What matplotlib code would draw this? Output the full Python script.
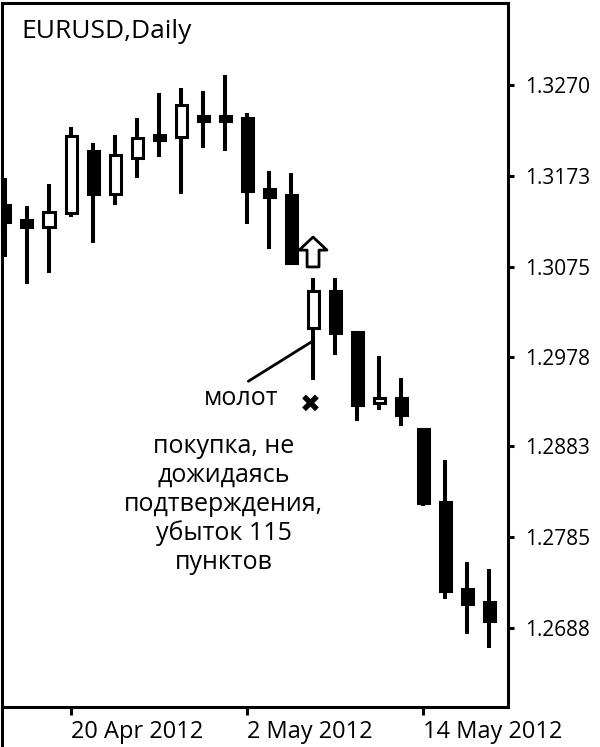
import matplotlib
matplotlib.use("Agg")
from matplotlib import pyplot as plt
from matplotlib.lines import Line2D

plt.rcParams['font.family'] = ['Open Sans', 'DejaVu Sans']

# daily candles, 17 Apr .. 17 May 2012
opens = [1.3141, 1.3125, 1.3118, 1.3133, 1.3199, 1.3153, 1.3192, 1.3216, 1.3214, 1.3237, 1.3237,
         1.3235, 1.3158, 1.3152, 1.3010, 1.3049, 1.3005, 1.2929, 1.2935, 1.2901, 1.2823, 1.2730, 1.2716]
highs = [1.3170, 1.3140, 1.3164, 1.3225, 1.3208, 1.3216, 1.3235, 1.3261, 1.3267, 1.3264, 1.3281,
         1.3240, 1.3178, 1.3176, 1.3063, 1.3063, 1.3005, 1.2979, 1.2956, 1.2902, 1.2868, 1.2759, 1.2751]
lows = [1.3086, 1.3057, 1.3069, 1.3128, 1.3101, 1.3141, 1.3170, 1.3193, 1.3153, 1.3203, 1.3199,
        1.3121, 1.3094, 1.3077, 1.2954, 1.2981, 1.2910, 1.2922, 1.2905, 1.2819, 1.2719, 1.2682, 1.2667]
closes = [1.3123, 1.3118, 1.3134, 1.3215, 1.3153, 1.3195, 1.3213, 1.3211, 1.3249, 1.3231, 1.3231,
          1.3156, 1.3150, 1.3079, 1.3049, 1.3004, 1.2927, 1.2935, 1.2916, 1.2822, 1.2728, 1.2714, 1.2696]

tick_idx = [3, 11, 19]
tick_labels = ['20 Apr 2012', '2 May 2012', '14 May 2012']
price_ticks = [1.3270, 1.3173, 1.3075, 1.2978, 1.2883, 1.2785, 1.2688]

hammer = 14

fig = plt.figure(figsize=(6, 7.47), dpi=100)
ax = fig.add_axes([2 / 600, 40 / 747, 506 / 600, 704 / 747])

n = len(opens)
xs = list(range(n))
ax.vlines(xs, lows, highs, color='black', linewidth=2.9, zorder=2)
bottoms = [min(o, c) for o, c in zip(opens, closes)]
heights = [abs(c - o) for o, c in zip(opens, closes)]
colors = ['white' if c > o else 'black' for o, c in zip(opens, closes)]
ax.bar(xs, heights, width=0.5, bottom=bottoms, color=colors, edgecolor='black',
       linewidth=2.2, zorder=3)

ax.set_xlim(-0.136, 22.86)
ax.set_ylim(1.26033, 1.33579)

ax.yaxis.tick_right()
ax.set_yticks(price_ticks)
ax.set_yticklabels([f'{p:.4f}' for p in price_ticks], fontsize=15)
ax.set_xticks(tick_idx)
ax.set_xticklabels(tick_labels, fontsize=17, ha='left')
ax.tick_params(axis='y', length=4, width=2.2, pad=8)
ax.tick_params(axis='x', length=6, width=2.2, pad=3)
for s in ax.spines.values():
    s.set_linewidth(2.2)
fig.add_artist(Line2D([2 / 600, 2 / 600], [0, 40 / 747], color='black', linewidth=2.2))

ax.text(0.039, 0.950, 'EURUSD,Daily', transform=ax.transAxes, fontsize=19, va='baseline')

# arrow above the hammer
ax.annotate('', xy=(hammer, highs[hammer] + 0.0044), xytext=(hammer, highs[hammer] + 0.0012),
            arrowprops=dict(arrowstyle='simple,head_length=9.4,head_width=20,tail_width=8.6',
                            mutation_scale=1, fc='white', ec='black', lw=2,
                            shrinkA=0, shrinkB=0), zorder=4)

ax.annotate('молот', xy=(hammer - 0.05, 1.2995), xytext=(10.75, 1.29345),
            fontsize=18, ha='center', va='center',
            arrowprops=dict(arrowstyle='-', color='black', lw=2, relpos=(0.5, 1.0),
                            shrinkA=2, shrinkB=0))
ax.text(13.9, 1.29275, '✖', family=['DejaVu Sans'], fontsize=18, ha='center', va='center')
ax.text(9.95, 1.2896, 'покупка, не\nдожидаясь\nподтверждения,\nубыток 115\nпунктов',
        fontsize=18, ha='center', va='top', multialignment='center', linespacing=1.2)

fig.savefig('out.png', dpi=100)
